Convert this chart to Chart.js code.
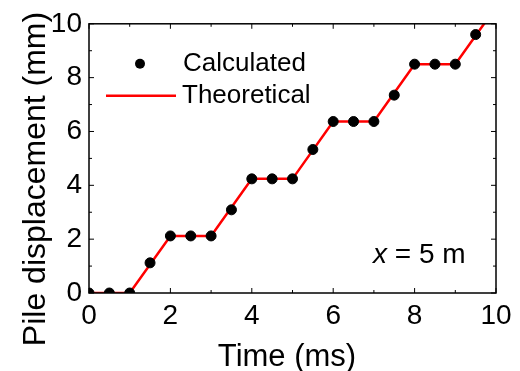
<!DOCTYPE html>
<html>
<head>
<meta charset="utf-8">
<script src="https://cdn.jsdelivr.net/npm/chart.js@4"></script>
<style>
  html, body { margin: 0; padding: 0; background: #fff; }
  canvas { display: block; }
</style>
</head>
<body>
<canvas id="chart" width="520" height="371"></canvas>
<script>
// donnees (x = 5 m)
const timeMs = [0, 0.5, 1, 1.5, 2, 2.5, 3, 3.5, 4, 4.5, 5, 5.5, 6, 6.5, 7, 7.5, 8, 8.5, 9, 9.5];
const calculated = [0, 0, 0, 1.12, 2.12, 2.12, 2.12, 3.09, 4.24, 4.24, 4.24, 5.33, 6.37, 6.37, 6.37, 7.35, 8.5, 8.5, 8.5, 9.6];
const theoTime = [0, 1, 2, 3, 4, 5, 6, 7, 8, 9, 10];
const theoretical = [0, 0, 2.12, 2.12, 4.24, 4.24, 6.37, 6.37, 8.5, 8.5, 10.62];
const xTicks = [0, 2, 4, 6, 8, 10];
const yTicks = [0, 2, 4, 6, 8, 10];

const FONT = "'Liberation Sans', Arial, sans-serif";

// Cadre + graduations vers l'interieur, titres, legende et annotation
const framePlugin = {
    id: 'frame',
    afterDatasetsDraw(chart) {
        const { ctx, chartArea: a, scales } = chart;
        const xs = scales.x, ys = scales.y;
        ctx.save();
        ctx.strokeStyle = '#000';
        ctx.lineWidth = 1.5;
        ctx.strokeRect(a.left, a.top, a.right - a.left, a.bottom - a.top);

        ctx.lineWidth = 1;
        ctx.beginPath();
        for (let v = 0; v <= 10; v += 1) {
            const len = v % 2 === 0 ? 5 : 3;
            const px = xs.getPixelForValue(v);
            ctx.moveTo(px, a.bottom); ctx.lineTo(px, a.bottom - len);
            ctx.moveTo(px, a.top); ctx.lineTo(px, a.top + len);
            const py = ys.getPixelForValue(v);
            ctx.moveTo(a.left, py); ctx.lineTo(a.left + len, py);
            ctx.moveTo(a.right, py); ctx.lineTo(a.right - len, py);
        }
        ctx.stroke();

        ctx.fillStyle = '#000';

        // titres des axes
        ctx.font = '31px ' + FONT;
        ctx.textAlign = 'center';
        ctx.textBaseline = 'alphabetic';
        ctx.fillText('Time (ms)', 287, 366);
        ctx.save();
        ctx.translate(45, 179);
        ctx.rotate(-Math.PI / 2);
        ctx.font = '32px ' + FONT;
        ctx.fillText('Pile displacement (mm)', 0, 0);
        ctx.restore();

        // legende
        const lx = a.left;
        ctx.beginPath();
        ctx.arc(lx + 51, a.top + 40, 5, 0, Math.PI * 2);
        ctx.fill();
        ctx.strokeStyle = '#ff0000';
        ctx.lineWidth = 2.5;
        ctx.beginPath();
        ctx.moveTo(lx + 17, a.top + 72);
        ctx.lineTo(lx + 87, a.top + 72);
        ctx.stroke();
        ctx.font = '26px ' + FONT;
        ctx.textBaseline = 'middle';
        ctx.textAlign = 'left';
        ctx.fillText('Calculated', lx + 94, a.top + 40);
        ctx.fillText('Theoretical', lx + 93, a.top + 72);

        // annotation x = 5 m
        const ax = 373, ay = 255;
        ctx.font = 'italic 28px ' + FONT;
        ctx.fillText('x', ax, ay);
        const w = ctx.measureText('x').width;
        ctx.font = '28px ' + FONT;
        ctx.fillText(' = 5 m', ax + w, ay);
        ctx.restore();
    }
};

new Chart(document.getElementById('chart'), {
    type: 'scatter',
    data: {
        datasets: [
            {
                label: 'Calculated',
                data: timeMs.map((t, i) => ({ x: t, y: calculated[i] })),
                backgroundColor: '#000',
                borderColor: '#000',
                pointRadius: 5,
                pointHoverRadius: 5,
                showLine: false
            },
            {
                label: 'Theoretical',
                data: theoTime.map((t, i) => ({ x: t, y: theoretical[i] })),
                borderColor: '#ff0000',
                backgroundColor: '#ff0000',
                borderWidth: 2.5,
                pointRadius: 0,
                showLine: true
            }
        ]
    },
    options: {
        responsive: false,
        devicePixelRatio: 1,
        animation: false,
        events: [],
        layout: { padding: { left: 0, top: 22, right: 24, bottom: 0 } },
        plugins: { legend: { display: false }, tooltip: { enabled: false } },
        scales: {
            x: {
                type: 'linear',
                min: 0, max: 10,
                afterBuildTicks: s => { s.ticks = xTicks.map(v => ({ value: v })); },
                afterFit: s => { s.height = 78; },
                grid: { display: false, drawTicks: false },
                border: { display: false },
                ticks: { color: '#000', font: { family: FONT, size: 28 }, padding: 6, maxRotation: 0 },
                title: { display: false, text: 'Time (ms)' }
            },
            y: {
                type: 'linear',
                min: 0, max: 10,
                afterBuildTicks: s => { s.ticks = yTicks.map(v => ({ value: v })); },
                afterFit: s => { s.width = 89; },
                grid: { display: false, drawTicks: false },
                border: { display: false },
                ticks: { color: '#000', font: { family: FONT, size: 28 }, padding: 7 },
                title: { display: false, text: 'Pile displacement (mm)' }
            }
        }
    },
    plugins: [framePlugin]
});
</script>
</body>
</html>
